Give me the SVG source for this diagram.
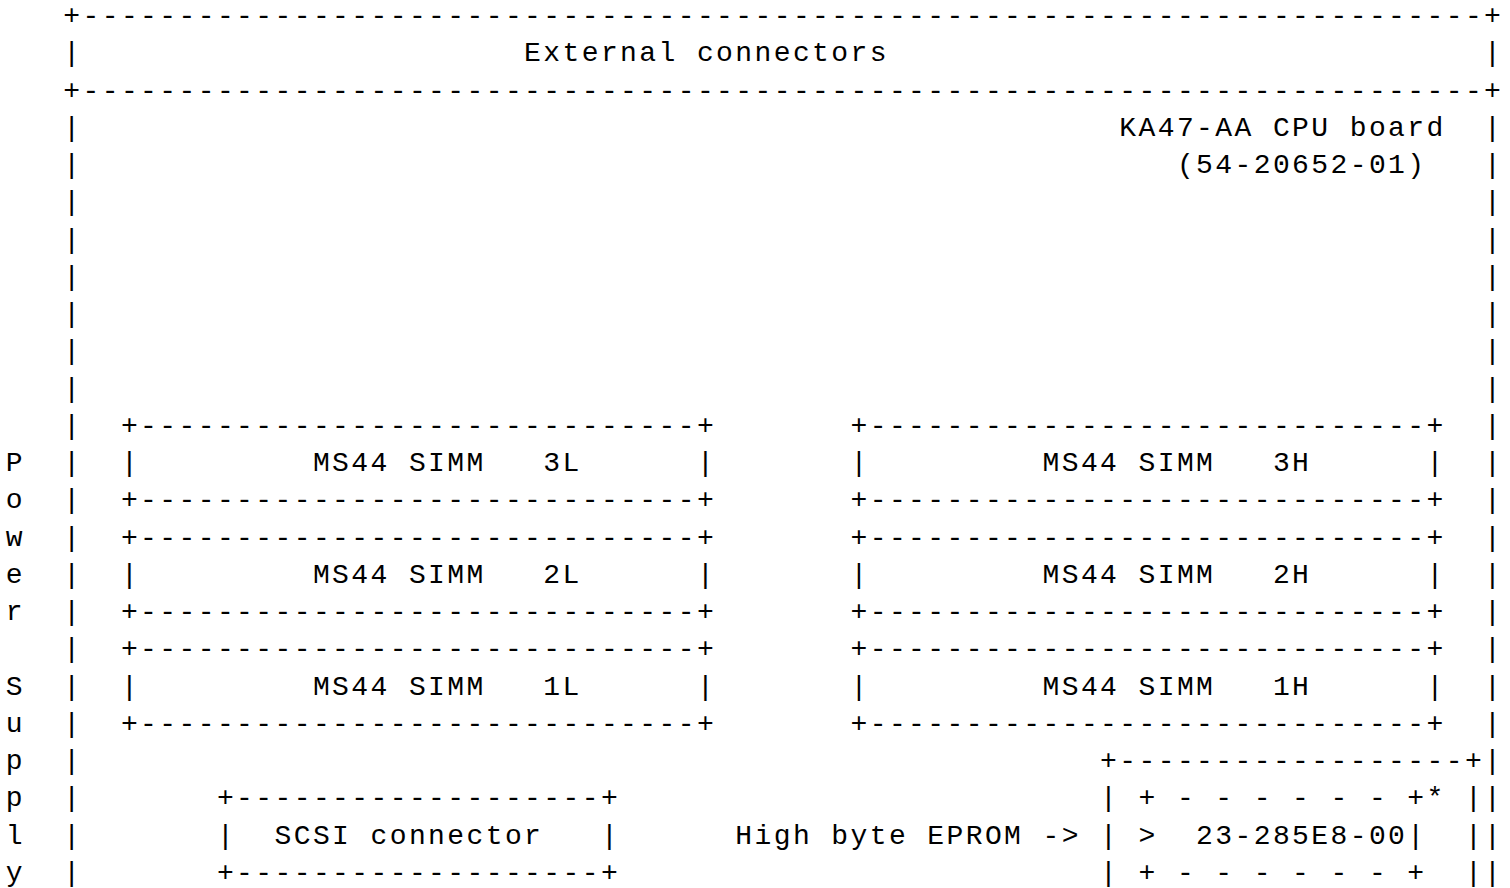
<svg xmlns="http://www.w3.org/2000/svg" width="1510" height="888" viewBox="0 0 1510 888" xml:space="preserve">
<style>
.t{font-family:"Liberation Mono","DejaVu Sans Mono",monospace;font-size:28px;letter-spacing:2.397px;white-space:pre;fill:#000}
</style>
<rect x="0" y="0" width="1510" height="888" fill="#fff"/>
<g id="external-connectors">
<text class="t" x="63.3" y="24">+-------------------------------------------------------------------------+</text>
<text class="t" x="63.3" y="61.25">|</text>
<text class="t" x="524.1" y="61.25">External connectors</text>
<text class="t" x="1484.1" y="61.25">|</text>
<text class="t" x="63.3" y="98.5">+-------------------------------------------------------------------------+</text>
</g>
<g id="cpu-board">
<text class="t" x="1119.3" y="135.75">KA47-AA CPU board</text>
<text class="t" x="1176.9" y="173">(54-20652-01)</text>
<text class="t"><tspan x="63.3" y="135.75">|</tspan><tspan x="63.3" y="173">|</tspan><tspan x="63.3" y="210.25">|</tspan><tspan x="63.3" y="247.5">|</tspan><tspan x="63.3" y="284.75">|</tspan><tspan x="63.3" y="322">|</tspan><tspan x="63.3" y="359.25">|</tspan><tspan x="63.3" y="396.5">|</tspan><tspan x="63.3" y="433.75">|</tspan><tspan x="63.3" y="471">|</tspan><tspan x="63.3" y="508.25">|</tspan><tspan x="63.3" y="545.5">|</tspan><tspan x="63.3" y="582.75">|</tspan><tspan x="63.3" y="620">|</tspan><tspan x="63.3" y="657.25">|</tspan><tspan x="63.3" y="694.5">|</tspan><tspan x="63.3" y="731.75">|</tspan><tspan x="63.3" y="769">|</tspan><tspan x="63.3" y="806.25">|</tspan><tspan x="63.3" y="843.5">|</tspan><tspan x="63.3" y="880.75">|</tspan></text>
<text class="t"><tspan x="1484.1" y="135.75">|</tspan><tspan x="1484.1" y="173">|</tspan><tspan x="1484.1" y="210.25">|</tspan><tspan x="1484.1" y="247.5">|</tspan><tspan x="1484.1" y="284.75">|</tspan><tspan x="1484.1" y="322">|</tspan><tspan x="1484.1" y="359.25">|</tspan><tspan x="1484.1" y="396.5">|</tspan><tspan x="1484.1" y="433.75">|</tspan><tspan x="1484.1" y="471">|</tspan><tspan x="1484.1" y="508.25">|</tspan><tspan x="1484.1" y="545.5">|</tspan><tspan x="1484.1" y="582.75">|</tspan><tspan x="1484.1" y="620">|</tspan><tspan x="1484.1" y="657.25">|</tspan><tspan x="1484.1" y="694.5">|</tspan><tspan x="1484.1" y="731.75">|</tspan><tspan x="1484.1" y="769">|</tspan><tspan x="1484.1" y="806.25">|</tspan><tspan x="1484.1" y="843.5">|</tspan><tspan x="1484.1" y="880.75">|</tspan></text>
</g>
<g id="power-supply">
<text class="t"><tspan x="5.7" y="471">P</tspan><tspan x="5.7" y="508.25">o</tspan><tspan x="5.7" y="545.5">w</tspan><tspan x="5.7" y="582.75">e</tspan><tspan x="5.7" y="620">r</tspan><tspan x="5.7" y="694.5">S</tspan><tspan x="5.7" y="731.75">u</tspan><tspan x="5.7" y="769">p</tspan><tspan x="5.7" y="806.25">p</tspan><tspan x="5.7" y="843.5">l</tspan><tspan x="5.7" y="880.75">y</tspan></text>
</g>
<g id="simm-3l">
<text class="t" x="120.9" y="433.75">+-----------------------------+</text>
<text class="t" x="120.9" y="471">|         MS44 SIMM   3L      |</text>
<text class="t" x="120.9" y="508.25">+-----------------------------+</text>
</g>
<g id="simm-2l">
<text class="t" x="120.9" y="545.5">+-----------------------------+</text>
<text class="t" x="120.9" y="582.75">|         MS44 SIMM   2L      |</text>
<text class="t" x="120.9" y="620">+-----------------------------+</text>
</g>
<g id="simm-1l">
<text class="t" x="120.9" y="657.25">+-----------------------------+</text>
<text class="t" x="120.9" y="694.5">|         MS44 SIMM   1L      |</text>
<text class="t" x="120.9" y="731.75">+-----------------------------+</text>
</g>
<g id="simm-3h">
<text class="t" x="850.5" y="433.75">+-----------------------------+</text>
<text class="t" x="850.5" y="471">|         MS44 SIMM   3H      |</text>
<text class="t" x="850.5" y="508.25">+-----------------------------+</text>
</g>
<g id="simm-2h">
<text class="t" x="850.5" y="545.5">+-----------------------------+</text>
<text class="t" x="850.5" y="582.75">|         MS44 SIMM   2H      |</text>
<text class="t" x="850.5" y="620">+-----------------------------+</text>
</g>
<g id="simm-1h">
<text class="t" x="850.5" y="657.25">+-----------------------------+</text>
<text class="t" x="850.5" y="694.5">|         MS44 SIMM   1H      |</text>
<text class="t" x="850.5" y="731.75">+-----------------------------+</text>
</g>
<g id="scsi-connector">
<text class="t" x="216.9" y="806.25">+-------------------+</text>
<text class="t" x="216.9" y="843.5">|  SCSI connector   |</text>
<text class="t" x="216.9" y="880.75">+-------------------+</text>
</g>
<g id="eprom-socket">
<text class="t" x="1100.1" y="769">+------------------+</text>
<text class="t" x="1100.1" y="806.25">|</text>
<text class="t" x="1100.1" y="843.5">|</text>
<text class="t" x="1100.1" y="880.75">|</text>
<text class="t" x="1464.9" y="806.25">|</text>
<text class="t" x="1464.9" y="843.5">|</text>
<text class="t" x="1464.9" y="880.75">|</text>
</g>
<g id="eprom-chip">
<text class="t" x="1138.5" y="806.25">+ - - - - - - +*</text>
<text class="t" x="1138.5" y="843.5">&gt;  23-285E8-00|</text>
<text class="t" x="1138.5" y="880.75">+ - - - - - - +</text>
</g>
<g id="connectors">
<text class="t" x="735.3" y="843.5">High byte EPROM -&gt;</text>
</g>
</svg>
